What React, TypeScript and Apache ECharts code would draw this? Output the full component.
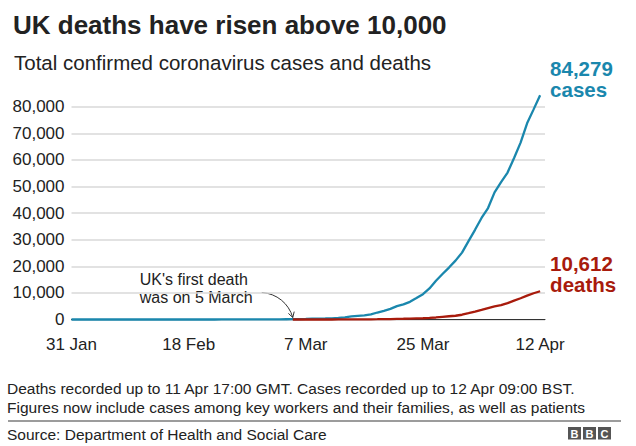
import React, { useEffect, useRef } from "react";
import * as echarts from "echarts";

// ---- Data (cumulative totals, day 0 = 31 Jan 2020) ----
const tickDays = [0, 18, 36, 54, 72];
const tickLabels = ["31 Jan", "18 Feb", "7 Mar", "25 Mar", "12 Apr"];

const cases = [
  2,
  2, 2, 2, 2, 2, 3, 3, 3, 3, 8, 8, 9, 9, 9, 9, 9, 9, 9, 9, 9, 9, 9, 13, 13, 13, 13, 15, 20, 23,
  36, 40, 51, 85, 115, 163, 206, 273, 321, 373, 456, 590, 798, 1140, 1372, 1543, 1950, 2626,
  3269, 3983, 5018, 5683, 6650, 8077, 9529, 11658, 14543, 17089, 19522, 22141, 25150,
  29474, 33718, 38168, 41903, 47806, 51608, 55242, 60733, 66500, 73758, 78991, 84279,
];

const firstDeathDay = 34; // 5 March
const deaths = [
  1, 2, 2, 3, 4, 6, 8, 10, 11, 21, 35, 55, 71, 104, 144, 177, 233, 281, 335, 422, 465, 578,
  759, 1019, 1228, 1408, 1789,
  2352, 2921, 3605, 4313, 4934, 5373, 6159, 7097, 7978, 8958, 9875, 10612,
];

const titleText = "UK deaths have risen above 10,000";
const subtitleText = "Total confirmed coronavirus cases and deaths";
const noteLines = [
  "Deaths recorded up to 11 Apr 17:00 GMT. Cases recorded up to 12 Apr 09:00 BST.",
  "Figures now include cases among key workers and their families, as well as patients",
];
const sourceText = "Source: Department of Health and Social Care";
const annotationLines = ["UK's first death", "was on 5 March"];

const TEAL = "#1a87ad";
const RED = "#a81b0c";
const INK = "#222222";
const FONT = '"Liberation Sans", Arial, Helvetica, sans-serif';

const fmt = (v: number) => String(v).replace(/\B(?=(\d{3})+(?!\d))/g, ",");

export default function App() {
  const ref = useRef<HTMLDivElement>(null);

  useEffect(() => {
    if (!ref.current) return;
    const chart = echarts.init(ref.current, undefined, { renderer: "svg" });

    const casesData = cases.map((v, i) => [i, v]);
    const deathsData = deaths.map((v, i) => [firstDeathDay + i, v]);

    const txt = (text: string, x: number, y: number, size: number, extra: any = {}) => ({
      type: "text",
      x,
      y,
      silent: true,
      style: {
        text,
        fontSize: size,
        fontFamily: FONT,
        fill: INK,
        align: "left",
        verticalAlign: "middle",
        ...extra,
      },
    });

    const staticGraphics: any[] = [
      txt(titleText, 13, 25, 26, { fontWeight: "bold" }),
      txt(subtitleText, 14, 62, 20.5),
      txt(noteLines[0], 7, 388, 15.5),
      txt(noteLines[1], 7, 407, 15.5),
      {
        type: "line",
        silent: true,
        shape: { x1: 8, y1: 421, x2: 621, y2: 421 },
        style: { stroke: "#9c9c9c", lineWidth: 2 },
      },
      txt(sourceText, 7, 434, 15.5),
    ];
    ["B", "B", "C"].forEach((ch, i) => {
      const bx = 568 + i * 15;
      staticGraphics.push({
        type: "rect",
        silent: true,
        shape: { x: bx, y: 427, width: 13, height: 12.5 },
        style: { fill: "#555555" },
      });
      staticGraphics.push({
        type: "text",
        silent: true,
        x: bx + 6.5,
        y: 433.5,
        style: {
          text: ch,
          fontSize: 11,
          fontWeight: "bold",
          fontFamily: FONT,
          fill: "#ffffff",
          align: "center",
          verticalAlign: "middle",
        },
      });
    });

    const option: any = {
      animation: false,
      backgroundColor: "#ffffff",
      textStyle: { fontFamily: FONT },
      grid: { left: 71.5, right: 91, top: 106.7, bottom: 126.5, containLabel: false },
      xAxis: {
        type: "value",
        min: 0,
        max: 72.75,
        interval: 18,
        axisLine: { show: true, lineStyle: { color: "#333333", width: 1 } },
        axisTick: { show: false },
        splitLine: { show: false },
        axisLabel: {
          fontSize: 17,
          color: INK,
          margin: 16,
          lineHeight: 17,
          showMaxLabel: false,
          formatter: (v: number) => {
            const k = tickDays.indexOf(v);
            return k >= 0 ? tickLabels[k] : "";
          },
        },
      },
      yAxis: {
        type: "value",
        min: 0,
        max: 80000,
        interval: 10000,
        axisLine: { show: false },
        axisTick: { show: false },
        splitLine: { show: true, lineStyle: { color: "#d9d9d9", width: 1.5 } },
        axisLabel: { fontSize: 17, color: INK, margin: 7, formatter: (v: number) => fmt(v) },
      },
      series: [
        {
          name: "cases",
          type: "line",
          data: casesData,
          symbol: "none",
          clip: false,
          z: 3,
          lineStyle: { color: TEAL, width: 2.3 },
        },
        {
          name: "deaths",
          type: "line",
          data: deathsData,
          symbol: "none",
          clip: false,
          z: 4,
          lineStyle: { color: RED, width: 2.3 },
        },
      ],
      graphic: staticGraphics,
    };

    chart.setOption(option);

    const lastCase = casesData[casesData.length - 1];
    const lastDeath = deathsData[deathsData.length - 1];
    const pc = chart.convertToPixel({ gridIndex: 0 }, lastCase) as number[];
    const pd = chart.convertToPixel({ gridIndex: 0 }, lastDeath) as number[];
    const tip0 = chart.convertToPixel({ gridIndex: 0 }, [firstDeathDay, 0]) as number[];
    const tip = [tip0[0], tip0[1] - 2];

    const endLabel = (a: string, b: string, x: number, cy: number, color: string) => [
      txt(a, x, cy - 10.5, 20.5, { fontWeight: "bold", fill: color }),
      txt(b, x, cy + 10.5, 20.5, { fontWeight: "bold", fill: color }),
    ];

    const dyn: any[] = [
      ...endLabel(fmt(lastCase[1]), "cases", pc[0] + 10, pc[1] - 16, TEAL),
      ...endLabel(fmt(lastDeath[1]), "deaths", pd[0] + 10, pd[1] - 17, RED),
      txt(annotationLines.join("\n"), tip[0] - 153, tip[1] - 29, 16, { lineHeight: 18 }),
      {
        type: "bezierCurve",
        silent: true,
        shape: {
          x1: tip[0] - 31,
          y1: tip[1] - 25,
          cpx1: tip[0] - 16,
          cpy1: tip[1] - 24,
          cpx2: tip[0] - 4,
          cpy2: tip[1] - 14,
          x2: tip[0],
          y2: tip[1],
        },
        style: { stroke: "#333333", lineWidth: 1, fill: null },
      },
      {
        type: "polyline",
        silent: true,
        shape: {
          points: [
            [tip[0] - 4.4, tip[1] - 4.1],
            [tip[0], tip[1]],
            [tip[0] + 1.4, tip[1] - 5.9],
          ],
        },
        style: { stroke: "#333333", lineWidth: 1, fill: null },
      },
    ];

    chart.setOption({ graphic: [...staticGraphics, ...dyn] });

    return () => {
      chart.dispose();
    };
  }, []);

  return (
    <div
      ref={ref}
      style={{ position: "fixed", left: 0, top: 0, width: 636, height: 446, background: "#fff" }}
    />
  );
}
